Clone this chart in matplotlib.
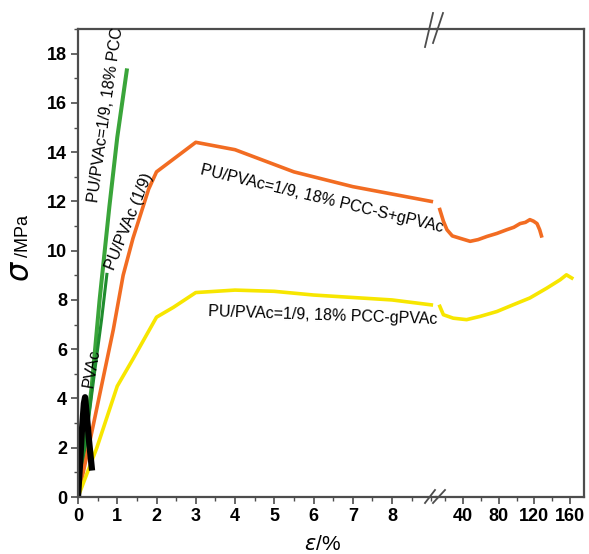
import matplotlib
matplotlib.use("Agg")
import matplotlib.pyplot as plt
from matplotlib.lines import Line2D
from matplotlib.ticker import MultipleLocator

plt.rcParams["font.family"] = ["Liberation Sans", "DejaVu Sans"]

# ---- data: strain (%) vs stress (MPa) ----
# small-strain segment (0 .. 9 %)
pvac_x = [0, 0.05, 0.10, 0.15, 0.18, 0.22, 0.28, 0.35]
pvac_y = [0, 1.3, 2.7, 3.8, 4.05, 3.4, 2.3, 1.2]

pcc_x = [0, 0.15, 0.35, 0.55, 0.80, 1.00, 1.25]
pcc_y = [0, 1.8, 4.5, 8.0, 11.8, 14.6, 17.4]
pcc2_x = [0, 0.20, 0.40, 0.60, 0.74]
pcc2_y = [0, 2.3, 4.8, 7.2, 9.1]

sg_x = [0, 0.4, 0.9, 1.15, 1.4, 1.6, 1.8, 2.0, 2.5, 3.0, 3.5, 4.0, 4.5,
        5.0, 5.5, 6.0, 7.0, 8.0, 9.0]
sg_y = [0, 3.0, 6.8, 9.0, 10.5, 11.5, 12.5, 13.2, 13.8, 14.4, 14.25, 14.1,
        13.8, 13.5, 13.2, 13.0, 12.6, 12.3, 12.0]

g_x = [0, 0.48, 1.0, 1.4, 2.0, 2.43, 3.0, 4.0, 5.0, 6.0, 7.0, 8.0, 9.0]
g_y = [0, 2.0, 4.5, 5.6, 7.3, 7.7, 8.3, 8.4, 8.35, 8.2, 8.1, 8.0, 7.8]

# large-strain segment (after the break)
sg_x2 = [14, 18, 22, 28, 37, 48, 57, 67, 78, 89, 97, 104, 110, 115, 119,
         123, 126, 128]
sg_y2 = [11.67, 11.2, 10.85, 10.6, 10.5, 10.38, 10.45, 10.58, 10.7, 10.85,
         10.95, 11.1, 11.15, 11.26, 11.2, 11.1, 10.85, 10.6]

g_x2 = [14, 18, 29, 44, 59, 78, 96, 115, 134, 149, 156, 162]
g_y2 = [7.74, 7.4, 7.26, 7.2, 7.33, 7.53, 7.8, 8.08, 8.48, 8.82, 9.02, 8.89]

left_ticks = [0, 1, 2, 3, 4, 5, 6, 7, 8]
right_ticks = [40, 80, 120, 160]
y_ticks = [0, 2, 4, 6, 8, 10, 12, 14, 16, 18]

ORANGE = "#f26c22"
YELLOW = "#f7e600"
GREEN = "#3aa53a"
GREEN2 = "#1f8c2e"
SPINE = "#4d4d4d"

W, H = 589, 554
fig = plt.figure(figsize=(W / 100, H / 100), dpi=100)

x0, xb, x1 = 78, 436, 584
yb, yt = 497, 29
ax1 = fig.add_axes([x0 / W, (H - yb) / H, (xb - x0) / W, (yb - yt) / H])
ax2 = fig.add_axes([xb / W, (H - yb) / H, (x1 - xb) / W, (yb - yt) / H],
                   sharey=ax1)
ax2.patch.set_visible(False)   # let labels from ax1 run over the break

lw = 2.6
ax1.plot(pcc_x, pcc_y, color=GREEN, lw=2.9, solid_capstyle="butt")
ax1.plot(pcc2_x, pcc2_y, color=GREEN2, lw=2.2, solid_capstyle="butt")
ax1.plot(sg_x, sg_y, color=ORANGE, lw=lw)
ax1.plot(g_x, g_y, color=YELLOW, lw=lw)
ax1.plot(pvac_x, pvac_y, color="black", lw=4.5)
ax2.plot(sg_x2, sg_y2, color=ORANGE, lw=lw)
ax2.plot(g_x2, g_y2, color=YELLOW, lw=lw)

ax1.set_xlim(0, 9.12)
ax2.set_xlim(9.72, 175.7)
ax1.set_ylim(0, 19.0)

ax1.set_xticks(left_ticks)
ax1.xaxis.set_minor_locator(MultipleLocator(0.5))
ax1.set_yticks(y_ticks)
ax1.yaxis.set_minor_locator(MultipleLocator(1))
ax2.set_xticks(right_ticks)
ax2.set_xticks([20, 60, 100, 140], minor=True)

for ax in (ax1, ax2):
    for s in ax.spines.values():
        s.set_color(SPINE)
        s.set_linewidth(1.6)
    ax.tick_params(which="major", direction="out", length=5, width=1.2,
                   color=SPINE, labelsize=13, pad=3)
    ax.tick_params(which="minor", direction="out", length=3, width=1.0,
                   color=SPINE)
    for lab in ax.get_xticklabels() + ax.get_yticklabels():
        lab.set_fontweight("bold")
ax1.spines["right"].set_visible(False)
ax2.spines["left"].set_visible(False)
ax2.tick_params(axis="y", which="both", left=False, labelleft=False)

# curve labels
fs = 11.5
ax1.text(0.71, 15.5, "PU/PVAc=1/9, 18% PCC", rotation=82, fontsize=fs,
         ha="center", va="center", rotation_mode="anchor")
ax1.text(1.30, 11.2, "PU/PVAc (1/9)", rotation=68, fontsize=fs,
         ha="center", va="center", rotation_mode="anchor")
ax1.text(0.36, 5.25, "PVAc", rotation=80, fontsize=fs,
         ha="center", va="center", rotation_mode="anchor")
ax1.text(6.22, 12.1, "PU/PVAc=1/9, 18% PCC-S+gPVAc", rotation=-13.5,
         fontsize=fs, ha="center", va="center", rotation_mode="anchor",
         clip_on=False, zorder=5)
ax1.text(6.24, 7.36, "PU/PVAc=1/9, 18% PCC-gPVAc", rotation=-2,
         fontsize=fs, ha="center", va="center", rotation_mode="anchor",
         clip_on=False, zorder=5)

# axis titles
fig.text(21 / W, 1 - 271 / H, r"$\sigma$", fontsize=22, rotation=90,
         ha="center", va="center")
fig.text(23 / W, 1 - 236 / H, "/MPa", fontsize=13, rotation=90,
         ha="center", va="center")
fig.text(322 / W, 1 - 545 / H, r"$\varepsilon$/%", fontsize=15,
         ha="center", va="center")

# break marks
def brk(xa, ya, xb_, yb_):
    fig.add_artist(Line2D([xa / W, xb_ / W], [1 - ya / H, 1 - yb_ / H],
                          color=SPINE, lw=1.3))

brk(425, 47, 433, 13)
brk(433, 43, 443, 13)
brk(425, 503, 435, 490)
brk(433, 503, 445, 490)

fig.savefig("out.png", dpi=100)
